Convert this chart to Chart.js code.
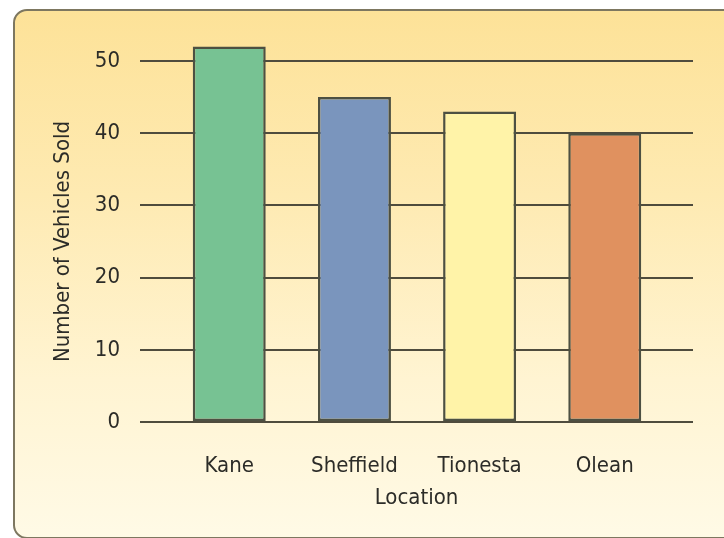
<!DOCTYPE html>
<html>
<head>
<meta charset="utf-8">
<script src="https://cdn.jsdelivr.net/npm/chart.js@4.4.1/dist/chart.umd.min.js"></script>
<style>
  html, body { margin: 0; padding: 0; background: #ffffff; }
  #wrap { position: relative; width: 724px; height: 538px; overflow: hidden; }
  #panel {
    position: absolute; left: 13px; top: 9px; width: 760px; height: 530px;
    border: 2px solid #7d7760; border-radius: 14px; box-sizing: border-box;
    background: linear-gradient(to bottom, #fde298 0%, #feeab2 35%, #fff4d2 70%, #fffae6 100%);
  }
  #c { position: absolute; left: 0; top: 0; }
</style>
</head>
<body>
<div id="wrap">
  <div id="panel"></div>
  <canvas id="c" width="724" height="538"></canvas>
</div>
<script>
// Vehicles sold per dealership location
const locations = ['Kane', 'Sheffield', 'Tionesta', 'Olean'];
const vehiclesSold = [52, 45, 43, 40];
const barColors = ['#77c293', '#7a95bd', '#fff3a8', '#e0915f'];
const yTicks = [0, 10, 20, 30, 40, 50];

const FONT = '"DejaVu Sans Condensed", "DejaVu Sans", sans-serif';
const TEXT = '#2c2c28';
const LINE = '#4f4c3d';

const points = locations.map((name, i) => ({ x: i, y: vehiclesSold[i] }));

new Chart(document.getElementById('c'), {
  type: 'bar',
  data: {
    datasets: [{
      data: points,
      backgroundColor: barColors,
      borderColor: '#4d5042',
      borderWidth: 2.5,
      borderSkipped: false,
      barPercentage: 0.583,
      categoryPercentage: 1,
      clip: false
    }]
  },
  options: {
    responsive: false,
    animation: false,
    layout: { padding: { left: 0, right: 31, top: 61, bottom: 0 } },
    plugins: { legend: { display: false }, tooltip: { enabled: false } },
    scales: {
      x: {
        type: 'linear',
        offset: false,
        min: -0.713,
        max: 3.705,
        afterBuildTicks: (axis) => { axis.ticks = locations.map((_, i) => ({ value: i })); },
        afterFit: (axis) => { axis.height = 116; },
        grid: { display: false },
        border: { display: false },
        ticks: {
          callback: (v) => locations[v],
          color: TEXT,
          font: { family: FONT, size: 22 },
          padding: 23,
          maxRotation: 0,
          autoSkip: false
        },
        title: {
          display: true,
          text: 'Location',
          color: TEXT,
          font: { family: FONT, size: 22 },
          padding: { top: 0, bottom: 27 }
        }
      },
      y: {
        min: 0,
        max: 50,
        afterBuildTicks: (axis) => { axis.ticks = yTicks.map(v => ({ value: v })); },
        afterFit: (axis) => { axis.width = 140; },
        grid: { color: LINE, lineWidth: 2, drawTicks: false },
        border: { display: false },
        ticks: {
          color: TEXT,
          font: { family: FONT, size: 22 },
          padding: 20
        },
        title: {
          display: true,
          text: 'Number of Vehicles Sold',
          color: TEXT,
          font: { family: FONT, size: 22 },
          padding: { top: 50, bottom: 0 }
        }
      }
    }
  }
});
</script>
</body>
</html>
